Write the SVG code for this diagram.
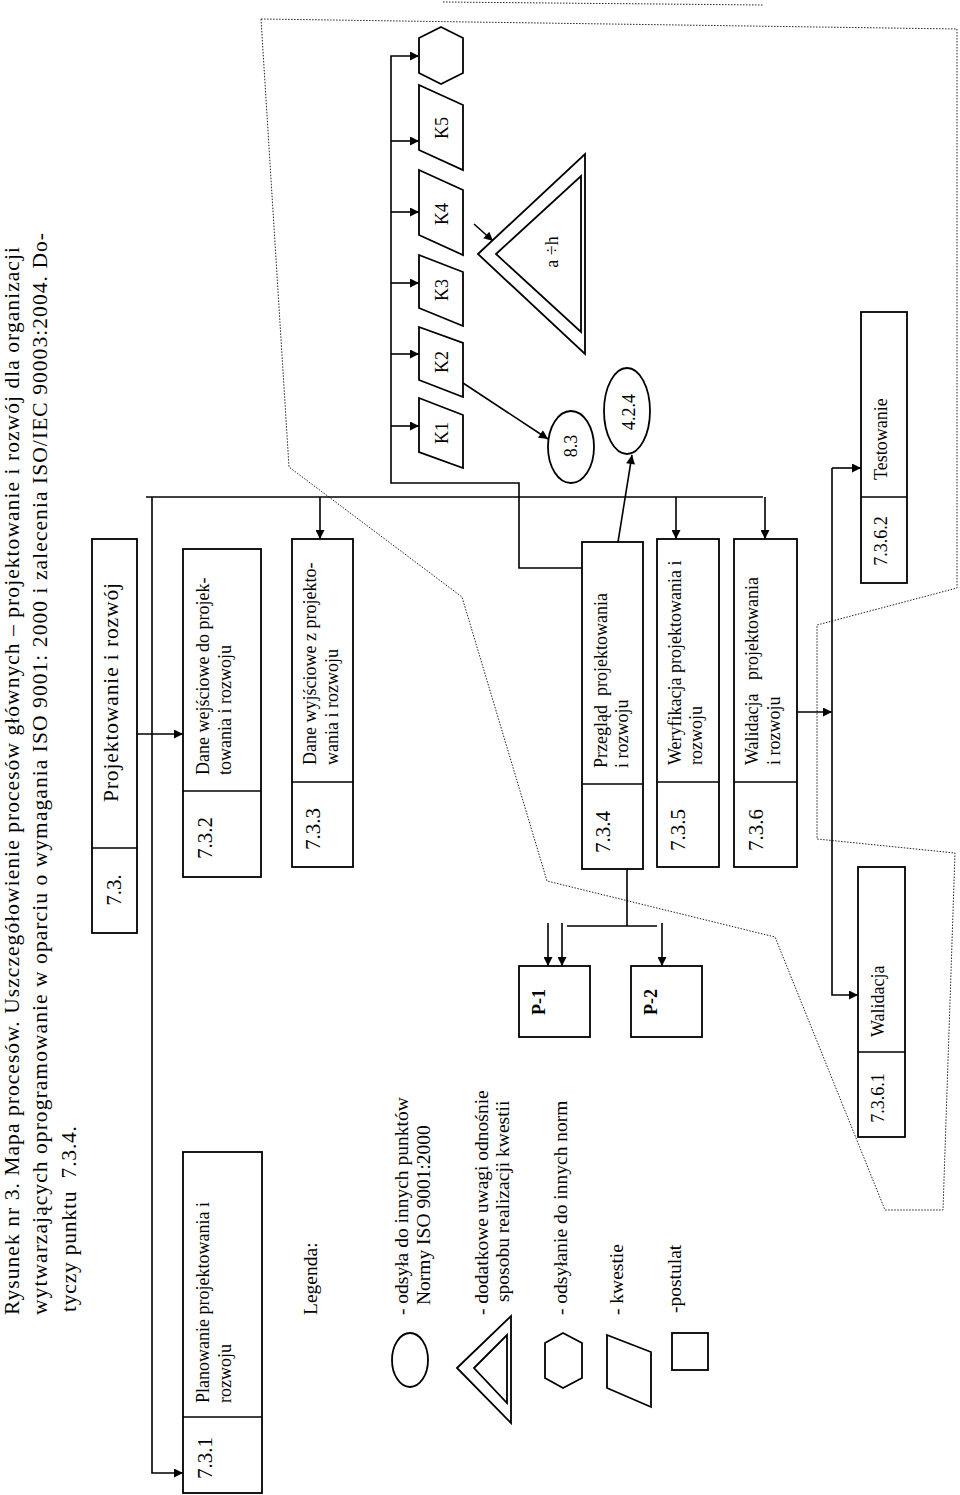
<svg xmlns="http://www.w3.org/2000/svg" width="960" height="1495" viewBox="0 0 960 1495">
<style>
.t{font-family:"Liberation Serif","Times New Roman",serif;fill:#000}
.s{font-size:18px}
.n{font-size:21px}
.lg{font-size:19.5px}
.ti{font-size:21.5px}
.m{text-anchor:middle}
.bold{font-weight:bold}
.b{fill:#fff;stroke:#000;stroke-width:1.8}
.ln{fill:none;stroke:#000;stroke-width:1.6}
.dot{fill:none;stroke:#222;stroke-width:1;stroke-dasharray:1.5 1.5}
</style>
<defs>
<marker id="ah" viewBox="0 0 10 10" refX="10" refY="5" markerWidth="12" markerHeight="9" markerUnits="userSpaceOnUse" orient="auto"><path d="M0,0 L10,5 L0,10 z" fill="#000"/></marker>
</defs>
<rect width="960" height="1495" fill="#fff"/>

<g id="title">
<text class="t ti" transform="rotate(-90 18.5 1315)" x="18.5" y="1315" textLength="1068" lengthAdjust="spacing">Rysunek nr 3. Mapa procesów. Uszczegółowienie procesów głównych  – projektowanie i rozwój dla organizacji</text>
<text class="t ti" transform="rotate(-90 47 1315)" x="47" y="1315" textLength="1082" lengthAdjust="spacing">wytwarzających oprogramowanie w oparciu  o wymagania ISO 9001: 2000 i zalecenia ISO/IEC 90003:2004. Do-</text>
<text class="t ti" transform="rotate(-90 75.5 1312)" x="75.5" y="1312" textLength="186" lengthAdjust="spacing" xml:space="preserve">tyczy punktu  7.3.4.</text>
</g>

<g id="dotted-region">
<polygon class="dot" points="261,19 289,467 462,597 547,881 775,937 885,1210 943,1210 955,853 817,839 817,625 957,588 957,29"/>
<line class="dot" x1="443" y1="2" x2="763" y2="5"/>
</g>

<g id="connectors">
<path class="ln" d="M146,497 H763"/>
<path class="ln" d="M152,497 V1473 H183" marker-end="url(#ah)"/>
<path class="ln" d="M137,734 H183" marker-end="url(#ah)"/>
<path class="ln" d="M320,497 V539" marker-end="url(#ah)"/>
<path class="ln" d="M676,497 V539" marker-end="url(#ah)"/>
<path class="ln" d="M765,497 V539" marker-end="url(#ah)"/>
<path class="ln" d="M582,568 H519 V483 H391 V56 H419" marker-end="url(#ah)"/>
<path class="ln" d="M391,426 H419" marker-end="url(#ah)"/>
<path class="ln" d="M391,354 H419" marker-end="url(#ah)"/>
<path class="ln" d="M391,283 H419" marker-end="url(#ah)"/>
<path class="ln" d="M391,212 H419" marker-end="url(#ah)"/>
<path class="ln" d="M391,141 H419" marker-end="url(#ah)"/>
<path class="ln" d="M463,383 L548,439" marker-end="url(#ah)"/>
<path class="ln" d="M618,542 L632,455" marker-end="url(#ah)"/>
<path class="ln" d="M474,224 L493,241" marker-end="url(#ah)"/>
<path class="ln" d="M627,869 V926 M567,926 H657"/>
<path class="ln" d="M548,923 V966" marker-end="url(#ah)"/>
<path class="ln" d="M562,923 V966" marker-end="url(#ah)"/>
<path class="ln" d="M662,923 V966" marker-end="url(#ah)"/>
<path class="ln" d="M797,712 H832" marker-end="url(#ah)"/>
<path class="ln" d="M832,468 V995 H858" marker-end="url(#ah)"/>
<path class="ln" d="M832,468 H861" marker-end="url(#ah)"/>
</g>

<g id="n73">
<rect class="b" x="92" y="539" width="45" height="394"/>
<line class="ln" x1="92" y1="848" x2="137" y2="848"/>
<text class="t ti" transform="rotate(-90 118 802)" x="118" y="802" textLength="219" lengthAdjust="spacing">Projektowanie i rozwój</text>
<text class="t n m" transform="rotate(-90 121 890)" x="121" y="890">7.3.</text>
</g>

<g id="n731">
<rect class="b" x="183" y="1152" width="79" height="341"/>
<line class="ln" x1="183" y1="1417" x2="262" y2="1417"/>
<text class="t s" transform="rotate(-90 209 1403)" x="209" y="1403">Planowanie projektowania i</text>
<text class="t s" transform="rotate(-90 231 1403)" x="231" y="1403">rozwoju</text>
<text class="t n m" transform="rotate(-90 212 1458)" x="212" y="1458">7.3.1</text>
</g>

<g id="n732">
<rect class="b" x="183" y="549" width="78" height="328"/>
<line class="ln" x1="183" y1="791" x2="261" y2="791"/>
<text class="t s" transform="rotate(-90 209 775)" x="209" y="775">Dane wejściowe do projek-</text>
<text class="t s" transform="rotate(-90 231 775)" x="231" y="775">towania i rozwoju</text>
<text class="t n m" transform="rotate(-90 212 838)" x="212" y="838">7.3.2</text>
</g>

<g id="n733">
<rect class="b" x="292" y="539" width="61" height="328"/>
<line class="ln" x1="292" y1="782" x2="353" y2="782"/>
<text class="t s" transform="rotate(-90 316 765)" x="316" y="765">Dane wyjściowe z projekto-</text>
<text class="t s" transform="rotate(-90 338 765)" x="338" y="765">wania i rozwoju</text>
<text class="t n m" transform="rotate(-90 320 829)" x="320" y="829">7.3.3</text>
</g>

<g id="n734">
<rect class="b" x="582" y="542" width="61" height="327"/>
<line class="ln" x1="582" y1="784" x2="643" y2="784"/>
<text class="t s" transform="rotate(-90 607 768)" x="607" y="768" xml:space="preserve">Przegląd  projektowania</text>
<text class="t s" transform="rotate(-90 628 768)" x="628" y="768">i rozwoju</text>
<text class="t n m" transform="rotate(-90 610 832)" x="610" y="832">7.3.4</text>
</g>

<g id="n735">
<rect class="b" x="657" y="539" width="62" height="328"/>
<line class="ln" x1="657" y1="782" x2="719" y2="782"/>
<text class="t s" transform="rotate(-90 681 765)" x="681" y="765">Weryfikacja projektowania i</text>
<text class="t s" transform="rotate(-90 702 765)" x="702" y="765">rozwoju</text>
<text class="t n m" transform="rotate(-90 685 830)" x="685" y="830">7.3.5</text>
</g>

<g id="n736">
<rect class="b" x="734" y="539" width="63" height="328"/>
<line class="ln" x1="734" y1="782" x2="797" y2="782"/>
<text class="t s" transform="rotate(-90 758 765)" x="758" y="765" xml:space="preserve">Walidacja   projektowania</text>
<text class="t s" transform="rotate(-90 780 765)" x="780" y="765">i rozwoju</text>
<text class="t n m" transform="rotate(-90 763 830)" x="763" y="830">7.3.6</text>
</g>

<g id="n7362">
<rect class="b" x="861" y="312" width="46" height="271"/>
<line class="ln" x1="861" y1="497" x2="907" y2="497"/>
<text class="t s" transform="rotate(-90 887 480)" x="887" y="480">Testowanie</text>
<text class="t s m" transform="rotate(-90 887 541)" x="887" y="541">7.3.6.2</text>
</g>

<g id="n7361">
<rect class="b" x="858" y="867" width="47" height="270"/>
<line class="ln" x1="858" y1="1052" x2="905" y2="1052"/>
<text class="t s" transform="rotate(-90 884 1037)" x="884" y="1037">Walidacja</text>
<text class="t s m" transform="rotate(-90 884 1098)" x="884" y="1098">7.3.6.1</text>
</g>

<g id="p1">
<rect class="b" x="519" y="966" width="71" height="71"/>
<text class="t s m bold" transform="rotate(-90 545 1002)" x="545" y="1002">P-1</text>
</g>
<g id="p2">
<rect class="b" x="631" y="966" width="71" height="71"/>
<text class="t s m bold" transform="rotate(-90 657 1002)" x="657" y="1002">P-2</text>
</g>

<g id="k1"><polygon class="b" points="419,398 463,415 463,468 419,452"/><text class="t s m" transform="rotate(-90 448 433)" x="448" y="433">K1</text></g>
<g id="k2"><polygon class="b" points="419,327 463,343 463,397 419,380"/><text class="t s m" transform="rotate(-90 448 362)" x="448" y="362">K2</text></g>
<g id="k3"><polygon class="b" points="419,255 463,272 463,326 419,308"/><text class="t s m" transform="rotate(-90 448 290)" x="448" y="290">K3</text></g>
<g id="k4"><polygon class="b" points="419,170 463,190 463,255 419,235"/><text class="t s m" transform="rotate(-90 448 214)" x="448" y="214">K4</text></g>
<g id="k5"><polygon class="b" points="419,85 463,105 463,170 419,150"/><text class="t s m" transform="rotate(-90 448 128)" x="448" y="128">K5</text></g>
<g id="hex"><polygon class="b" points="441,27 463,38 463,73 441,84 419,73 419,38"/></g>

<g id="triangle">
<polygon class="b" points="478,254 585,154 585,354"/>
<polygon class="b" points="496,254 581,176 581,332"/>
<text class="t s m" transform="rotate(-90 558 252)" x="558" y="252">a ÷h</text>
</g>

<g id="e83">
<ellipse class="b" cx="571" cy="447" rx="23" ry="36"/>
<text class="t s m" transform="rotate(-90 577 446)" x="577" y="446">8.3</text>
</g>
<g id="e424">
<ellipse class="b" cx="627" cy="411" rx="23" ry="43"/>
<text class="t s m" transform="rotate(-90 635 412)" x="635" y="412">4.2.4</text>
</g>

<g id="legend">
<text class="t lg" transform="rotate(-90 317 1315)" x="317" y="1315">Legenda:</text>
<ellipse class="b" cx="410" cy="1360" rx="18" ry="27"/>
<text class="t lg" transform="rotate(-90 408 1315)" x="408" y="1315">- odsyła do innych punktów</text>
<text class="t lg" transform="rotate(-90 430 1305)" x="430" y="1305">Normy ISO 9001:2000</text>
<polygon class="b" points="457,1368 511,1316 511,1423"/>
<polygon class="b" points="474,1368 507,1335 507,1403"/>
<text class="t lg" transform="rotate(-90 488 1315)" x="488" y="1315">- dodatkowe uwagi odnośnie</text>
<text class="t lg" transform="rotate(-90 509 1302)" x="509" y="1302">sposobu realizacji kwestii</text>
<polygon class="b" points="563,1333 582,1343 582,1378 563,1388 545,1378 545,1343"/>
<text class="t lg" transform="rotate(-90 567 1315)" x="567" y="1315">- odsyłanie do innych norm</text>
<polygon class="b" points="607,1335 651,1352 651,1407 607,1388"/>
<text class="t lg" transform="rotate(-90 623 1315)" x="623" y="1315">- kwestie</text>
<rect class="b" x="672" y="1333" width="36" height="37"/>
<text class="t lg" transform="rotate(-90 681 1313)" x="681" y="1313">-postulat</text>
</g>
</svg>
